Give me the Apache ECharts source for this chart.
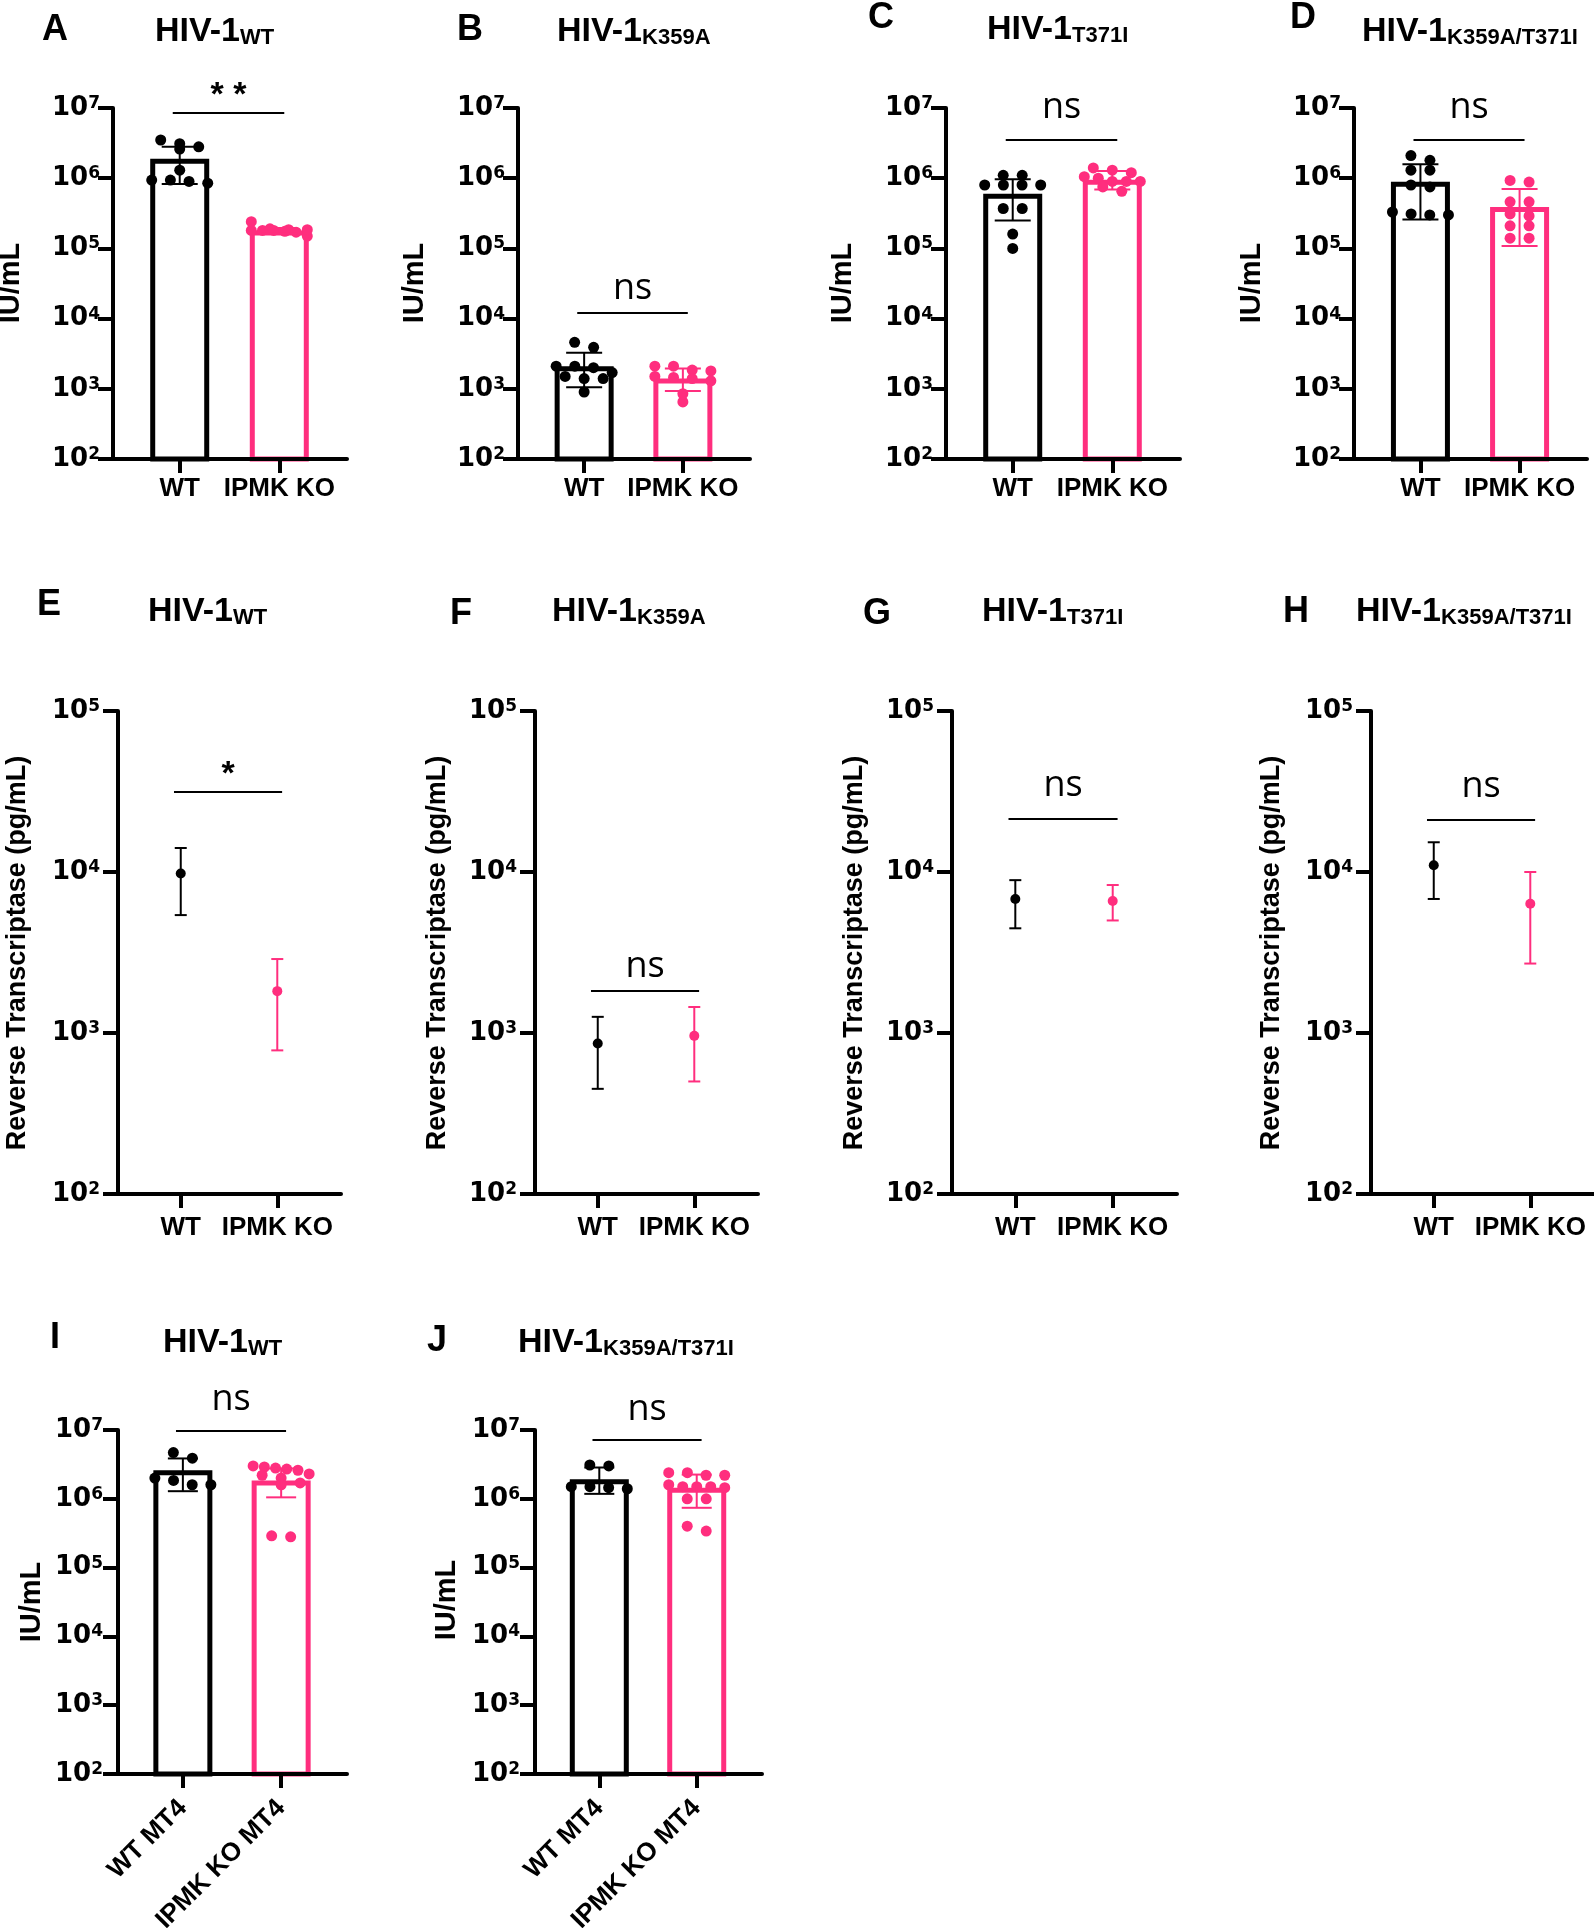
<!DOCTYPE html>
<html>
<head>
<meta charset="utf-8">
<title>HIV-1 IPMK</title>
<script src="https://cdn.jsdelivr.net/npm/echarts@6/dist/echarts.min.js"></script>
<style>
html, body { margin: 0; padding: 0; background: #fff; }
#main { width: 1594px; height: 1928px; }
</style>
</head>
<body>
<div id="main"></div>
<script>
// categories
var groups = ['WT', 'IPMK KO'];
var groupsMT4 = ['WT MT4', 'IPMK KO MT4'];

// A  HIV-1 WT (IU/mL)
var aWt = [2.6e6, 3.1e6, 3.5e6, 2.8e6, 1.3e6, 8.5e5, 9.4e5, 9.4e5, 9.0e5];
var aKo = [1.8e5, 1.85e5, 1.9e5, 1.75e5, 1.8e5, 1.7e5, 1.5e5, 1.85e5, 1.8e5, 2.4e5];
var aMean = [1.9e6, 1.8e5];
var aErr = [[8.3e5, 2.8e6], [1.65e5, 1.95e5]];
// B  HIV-1 K359A
var bWt = [3.9e3, 4.6e3, 2.1e3, 2.0e3, 2.1e3, 1.7e3, 1.4e3, 1.5e3, 1.4e3, 9.0e2];
var bKo = [1.8e3, 2.1e3, 2.1e3, 1.85e3, 1.45e3, 1.5e3, 1.4e3, 1.3e3, 6.5e2, 8.5e2];
var bMean = [2.1e3, 1.4e3];
var bErr = [[1.05e3, 3.25e3], [9.3e2, 1.94e3]];
// C  HIV-1 T371I
var cWt = [1.1e6, 1.1e6, 8.0e5, 8.0e5, 8.0e5, 8.0e5, 3.7e5, 3.7e5, 1.6e5, 1.0e5];
var cKo = [1.3e6, 1.4e6, 1.2e6, 1.05e6, 1.0e6, 9.0e5, 9.0e5, 9.0e5, 6.5e5, 7.5e5];
var cMean = [6.0e5, 9.5e5];
var cErr = [[2.5e5, 9.7e5], [6.9e5, 1.27e6]];
// D  HIV-1 K359A/T371I
var dWt = [1.8e6, 2.1e6, 1.3e6, 1.3e6, 7.5e5, 8.0e5, 3.0e5, 3.3e5, 3.0e5, 3.1e5];
var dKo = [9.3e5, 8.8e5, 4.6e5, 4.6e5, 2.9e5, 3.1e5, 2.1e5, 2.1e5, 1.4e5, 1.4e5];
var dMean = [8.9e5, 3.9e5];
var dErr = [[2.57e5, 1.58e6], [1.08e5, 7.0e5]];
// E-H  reverse transcriptase (pg/mL), mean and error range
var eMean = [9.8e3, 1.82e3];
var eErr = [[5.4e3, 1.41e4], [7.8e2, 2.88e3]];
var fMean = [8.6e2, 9.6e2];
var fErr = [[4.5e2, 1.26e3], [5.0e2, 1.45e3]];
var gMean = [6.8e3, 6.6e3];
var gErr = [[4.47e3, 8.9e3], [5.0e3, 8.3e3]];
var hMean = [1.1e4, 6.35e3];
var hErr = [[6.8e3, 1.53e4], [2.7e3, 1.0e4]];
// I  HIV-1 WT in MT4
var iWt = [1.6e6, 3.9e6, 4.7e6, 2.0e6, 1.6e6, 1.85e6];
var iKo = [2.9e6, 2.6e6, 2.7e6, 2.8e6, 3.0e6, 2.2e6, 2.0e6, 2.3e6, 1.7e6, 1.6e6, 2.9e5, 2.8e5];
var iMean = [2.6e6, 1.85e6];
var iErr = [[1.29e6, 3.86e6], [1.05e6, 2.76e6]];
// J  HIV-1 K359A/T371I in MT4
var jWt = [3.0e6, 3.1e6, 1.4e6, 1.5e6, 1.5e6, 1.45e6];
var jKo = [2.2e6, 2.4e6, 2.4e6, 2.2e6, 1.5e6, 1.6e6, 1.5e6, 1.5e6, 1.45e6, 1.0e6, 1.0e6, 3.4e5, 4.0e5];
var jMean = [1.92e6, 1.45e6];
var jErr = [[1.18e6, 2.85e6], [7.4e5, 2.25e6]];
// significance bars A..J
var sigY = [8.5e6, 1.23e4, 3.5e6, 3.5e6, 3.16e4, 1.82e3, 2.15e4, 2.1e4, 9.8e6, 7.2e6];
var sigText = ['* *', 'ns', 'ns', 'ns', '*', 'ns', 'ns', 'ns', 'ns', 'ns'];

var FONT = '"Liberation Sans", Arial, sans-serif';
var NUMFONT = '"DejaVu Sans", sans-serif';
var NSFONT = '"Open Sans", sans-serif';
var PINK = '#ff2e7e';
var COLORS = ['#000', PINK];

var panels = [
    {id: 'A', kind: 'bar', sub: 'WT', wt: aWt, ko: aKo, mean: aMean, err: aErr, cats: groups, yMax: 1e7, yName: 'IU/mL'},
    {id: 'B', kind: 'bar', sub: 'K359A', wt: bWt, ko: bKo, mean: bMean, err: bErr, cats: groups, yMax: 1e7, yName: 'IU/mL'},
    {id: 'C', kind: 'bar', sub: 'T371I', wt: cWt, ko: cKo, mean: cMean, err: cErr, cats: groups, yMax: 1e7, yName: 'IU/mL'},
    {id: 'D', kind: 'bar', sub: 'K359A/T371I', wt: dWt, ko: dKo, mean: dMean, err: dErr, cats: groups, yMax: 1e7, yName: 'IU/mL'},
    {id: 'E', kind: 'point', sub: 'WT', mean: eMean, err: eErr, cats: groups, yMax: 1e5, yName: 'Reverse Transcriptase (pg/mL)'},
    {id: 'F', kind: 'point', sub: 'K359A', mean: fMean, err: fErr, cats: groups, yMax: 1e5, yName: 'Reverse Transcriptase (pg/mL)'},
    {id: 'G', kind: 'point', sub: 'T371I', mean: gMean, err: gErr, cats: groups, yMax: 1e5, yName: 'Reverse Transcriptase (pg/mL)'},
    {id: 'H', kind: 'point', sub: 'K359A/T371I', mean: hMean, err: hErr, cats: groups, yMax: 1e5, yName: 'Reverse Transcriptase (pg/mL)'},
    {id: 'I', kind: 'bar', sub: 'WT', wt: iWt, ko: iKo, mean: iMean, err: iErr, cats: groupsMT4, yMax: 1e7, yName: 'IU/mL'},
    {id: 'J', kind: 'bar', sub: 'K359A/T371I', wt: jWt, ko: jKo, mean: jMean, err: jErr, cats: groupsMT4, yMax: 1e7, yName: 'IU/mL'}
];

// page layout: grid [left, top, width, height], letter / title / y name positions, gap of "ns" label
var layout = {
    A: {row: 0, grid: [113, 108, 234, 351], letter: [42, 30], title: [155, 32], yName: [11, 283], ns: 0},
    B: {row: 0, grid: [518, 108, 232, 351], letter: [457, 30], title: [557, 32], yName: [415, 283], ns: 6},
    C: {row: 0, grid: [946, 108, 234, 351], letter: [868, 18], title: [987, 30], yName: [843, 283], ns: 14},
    D: {row: 0, grid: [1354, 108, 233, 351], letter: [1290, 18], title: [1362, 32], yName: [1252, 283], ns: 14},
    E: {row: 1, grid: [118, 711, 223, 483], letter: [37, 605], title: [148, 612], yName: [18, 953], ns: 0},
    F: {row: 1, grid: [535, 711, 223, 483], letter: [450, 614], title: [552, 612], yName: [438, 953], ns: 6},
    G: {row: 1, grid: [952, 711, 225, 483], letter: [863, 614], title: [982, 612], yName: [855, 953], ns: 15},
    H: {row: 1, grid: [1371, 711, 223, 483], letter: [1283, 612], title: [1356, 612], yName: [1272, 953], ns: 15},
    I: {row: 2, grid: [118, 1430, 229, 344], letter: [50, 1338], title: [163, 1343], yName: [32, 1602], ns: 13},
    J: {row: 2, grid: [535, 1430, 227, 344], letter: [427, 1341], title: [518, 1343], yName: [447, 1600], ns: 12}
};
var rowStyle = [
    {xr: [-0.67, 1.68], cat: 26, catMargin: 17, rotate: 0, tickMargin: 13, cap: 18},
    {xr: [-0.65, 1.66], cat: 26, catMargin: 21, rotate: 0, tickMargin: 18, cap: 6},
    {xr: [-0.66, 1.67], cat: 26, catMargin: 30, rotate: 45, tickMargin: 15, cap: 15}
];

// spread dots of similar height into centred rows (GraphPad-like)
function swarmX(values, pxDec, pxUnit, spacing, maxSpan, rowGap) {
    var idx = values.map(function (v, i) { return i; });
    idx.sort(function (a, b) { return values[b] - values[a]; });
    var out = [];
    var k = 0;
    while (k < idx.length) {
        var y0 = Math.log10(values[idx[k]]) * pxDec;
        var row = [idx[k]];
        k++;
        while (k < idx.length && y0 - Math.log10(values[idx[k]]) * pxDec <= rowGap) {
            row.push(idx[k]);
            k++;
        }
        var n = row.length;
        var sp = n > 1 ? Math.min(spacing, maxSpan / (n - 1)) : 0;
        row.forEach(function (i, j) {
            out[i] = (j - (n - 1) / 2) * sp / pxUnit;
        });
    }
    return out;
}

// error bars: vertical line with caps
function errRender(cap, lw) {
    return function (params, api) {
        var x = api.value(0);
        var lo = api.coord([x, api.value(1)]);
        var hi = api.coord([x, api.value(2)]);
        var st = {stroke: COLORS[params.dataIndex], lineWidth: lw, fill: null};
        return {
            type: 'group',
            children: [
                {type: 'line', shape: {x1: lo[0], y1: lo[1], x2: hi[0], y2: hi[1]}, style: st},
                {type: 'line', shape: {x1: hi[0] - cap, y1: hi[1], x2: hi[0] + cap, y2: hi[1]}, style: st},
                {type: 'line', shape: {x1: lo[0] - cap, y1: lo[1], x2: lo[0] + cap, y2: lo[1]}, style: st}
            ]
        };
    };
}

function sigLine(k, gap) {
    var star = sigText[k] !== 'ns';
    return {
        silent: true,
        symbol: 'none',
        animation: false,
        lineStyle: {color: '#000', width: 2, type: 'solid'},
        label: {
            show: true,
            position: 'insideMiddleTop',
            distance: gap,
            formatter: sigText[k],
            color: '#000',
            fontFamily: star ? FONT : NSFONT,
            fontWeight: star ? 'bold' : 'normal',
            fontSize: star ? 34 : 36
        },
        emphasis: {disabled: true},
        data: [[{coord: [-0.07, sigY[k]]}, {coord: [1.05, sigY[k]]}]]
    };
}

var grids = [], xAxes = [], yAxes = [], series = [], graphics = [];

panels.forEach(function (p, k) {
    var L = layout[p.id];
    var rs = rowStyle[L.row];
    var g = L.grid;
    grids.push({left: g[0], top: g[1], width: g[2], height: g[3], containLabel: false, outerBoundsMode: 'none'});

    xAxes.push({
        type: 'value', gridIndex: k, min: rs.xr[0], max: rs.xr[1], z: 10,
        axisLine: {show: true, onZero: false, lineStyle: {color: '#000', width: 4}},
        axisTick: {show: true, customValues: [0, 1], length: 14, lineStyle: {color: '#000', width: 4}},
        axisLabel: {
            customValues: [0, 1],
            formatter: function (v) { return p.cats[Math.round(v)]; },
            fontFamily: FONT, fontWeight: 'bold', fontSize: rs.cat, color: '#000',
            margin: rs.catMargin, rotate: rs.rotate
        },
        splitLine: {show: false}
    });

    yAxes.push({
        type: 'log', logBase: 10, gridIndex: k, min: 100, max: p.yMax, z: 10,
        axisLine: {show: true, onZero: false, lineStyle: {color: '#000', width: 4}},
        axisTick: {show: true, length: 15, lineStyle: {color: '#000', width: 4}},
        minorTick: {show: false},
        splitLine: {show: false},
        axisLabel: {
            margin: rs.tickMargin,
            formatter: function (v) { return '{b|10}{s|' + Math.round(Math.log10(v)) + '}'; },
            rich: {
                b: {fontFamily: NUMFONT, fontWeight: 'bold', fontSize: 26, color: '#000'},
                s: {fontFamily: NUMFONT, fontWeight: 'bold', fontSize: 17, color: '#000', verticalAlign: 'top'}
            }
        }
    });

    var errData = [[0, p.err[0][0], p.err[0][1]], [1, p.err[1][0], p.err[1][1]]];

    if (p.kind === 'bar') {
        var pxDec = g[3] / (Math.log10(p.yMax) - 2);
        var pxUnit = g[2] / (rs.xr[1] - rs.xr[0]);
        var wtX = swarmX(p.wt, pxDec, pxUnit, 19, 56, 8);
        var koX = swarmX(p.ko, pxDec, pxUnit, 19, 56, 8);
        series.push({
            type: 'bar', xAxisIndex: k, yAxisIndex: k, barWidth: 59, z: 2, silent: true, clip: true,
            data: p.mean.map(function (v, i) {
                return {value: [i, v], itemStyle: {color: '#fff', borderColor: COLORS[i], borderWidth: 5}};
            }),
            markLine: sigLine(k, L.ns)
        });
        series.push({
            type: 'scatter', xAxisIndex: k, yAxisIndex: k, symbolSize: 11, z: 3, silent: true,
            itemStyle: {color: '#000', opacity: 1},
            data: p.wt.map(function (v, i) { return [wtX[i], v]; })
        });
        series.push({
            type: 'scatter', xAxisIndex: k, yAxisIndex: k, symbolSize: 11, z: 3, silent: true,
            itemStyle: {color: PINK, opacity: 1},
            data: p.ko.map(function (v, i) { return [1 + koX[i], v]; })
        });
        series.push({
            type: 'custom', xAxisIndex: k, yAxisIndex: k, z: 4, silent: true,
            renderItem: errRender(rs.cap, 2),
            encode: {x: 0, y: [1, 2]},
            data: errData
        });
    } else {
        series.push({
            type: 'scatter', xAxisIndex: k, yAxisIndex: k, symbolSize: 10, z: 4, silent: true,
            data: p.mean.map(function (v, i) {
                return {value: [i, v], itemStyle: {color: COLORS[i], opacity: 1}};
            }),
            markLine: sigLine(k, L.ns)
        });
        series.push({
            type: 'custom', xAxisIndex: k, yAxisIndex: k, z: 3, silent: true,
            renderItem: errRender(rs.cap, 2),
            encode: {x: 0, y: [1, 2]},
            data: errData
        });
    }

    // panel letter, title, y axis name
    graphics.push({
        type: 'text', x: L.letter[0], y: L.letter[1],
        style: {text: p.id, font: 'bold 36px ' + FONT, fill: '#000', align: 'left', verticalAlign: 'middle'}
    });
    graphics.push({
        type: 'text', x: L.title[0], y: L.title[1],
        style: {
            text: '{m|HIV-1}{s|' + p.sub + '}',
            align: 'left', verticalAlign: 'middle',
            rich: {
                m: {fontFamily: FONT, fontWeight: 'bold', fontSize: 34, fill: '#000', verticalAlign: 'bottom'},
                s: {fontFamily: FONT, fontWeight: 'bold', fontSize: 22, fill: '#000', verticalAlign: 'bottom'}
            }
        }
    });
    graphics.push({
        type: 'text', x: L.yName[0], y: L.yName[1], rotation: Math.PI / 2,
        style: {
            text: p.yName,
            font: 'bold ' + (p.kind === 'bar' ? 29 : 27) + 'px ' + FONT,
            fill: '#000', align: 'center', verticalAlign: 'middle'
        }
    });
});

var chart = echarts.init(document.getElementById('main'), null, {renderer: 'canvas', width: 1594, height: 1928});
chart.setOption({
    backgroundColor: '#fff',
    animation: false,
    grid: grids,
    xAxis: xAxes,
    yAxis: yAxes,
    series: series,
    graphic: graphics
});
</script>
</body>
</html>
